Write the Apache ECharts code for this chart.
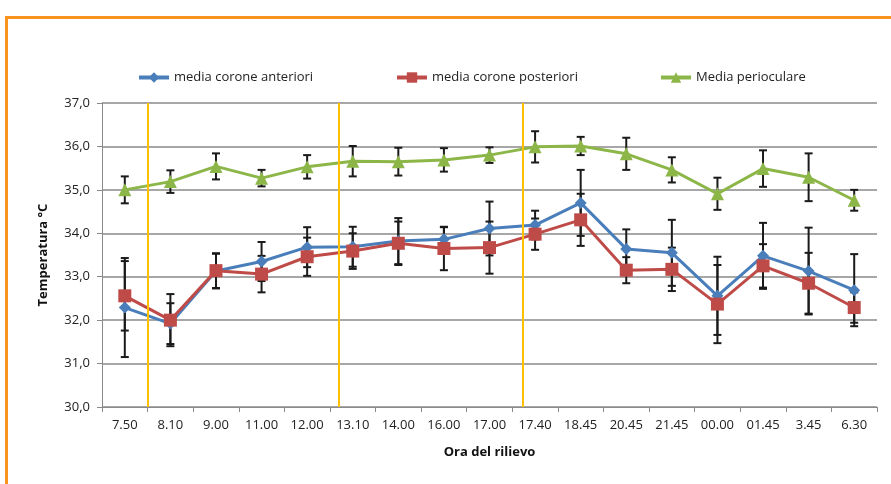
<!DOCTYPE html>
<html>
<head>
<meta charset="utf-8">
<script src="https://cdn.jsdelivr.net/npm/echarts@6/dist/echarts.min.js"></script>
<style>
  html, body { margin: 0; padding: 0; background: #fff; }
  #chart { width: 891px; height: 484px; }
</style>
</head>
<body>
<div id="chart"></div>
<script>
// Orari di rilievo
const categories = ['7.50', '8.10', '9.00', '11.00', '12.00', '13.10', '14.00', '16.00', '17.00',
  '17.40', '18.45', '20.45', '21.45', '00.00', '01.45', '3.45', '6.30'];

// Medie (°C)
const anteriori  = [32.29, 31.92, 33.13, 33.35, 33.68, 33.69, 33.82, 33.86, 34.11, 34.19, 34.70, 33.64, 33.55, 32.56, 33.48, 33.13, 32.69];
const posteriori = [32.56, 32.00, 33.14, 33.06, 33.46, 33.59, 33.77, 33.65, 33.67, 33.98, 34.31, 33.15, 33.17, 32.37, 33.25, 32.85, 32.29];
const perioculare = [35.00, 35.19, 35.54, 35.27, 35.53, 35.66, 35.65, 35.69, 35.80, 35.99, 36.01, 35.83, 35.46, 34.91, 35.49, 35.29, 34.76];

// Deviazioni standard (±)
const errAnteriori  = [1.14, 0.47, 0.40, 0.45, 0.46, 0.46, 0.53, 0.28, 0.62, 0.33, 0.76, 0.45, 0.76, 0.90, 0.76, 1.00, 0.83];
const errPosteriori = [0.80, 0.60, 0.40, 0.42, 0.44, 0.41, 0.50, 0.50, 0.60, 0.36, 0.60, 0.30, 0.50, 0.90, 0.50, 0.70, 0.35];
const errPerioculare = [0.31, 0.26, 0.30, 0.19, 0.27, 0.35, 0.32, 0.27, 0.18, 0.36, 0.21, 0.37, 0.29, 0.37, 0.42, 0.55, 0.24];

// Separatori verticali (posizione sull'asse delle categorie)
const separators = [1.0, 5.2, 9.23];

const yTicks = { min: 30, max: 37, step: 1 };

const names = ['media corone anteriori', 'media corone posteriori', 'Media perioculare'];
const colors = ['#4A7EBB', '#BE4B48', '#8CB648'];
const FONT = '"Open Sans", sans-serif';

function errData(means, errs) {
  return means.map((m, i) => [i, m - errs[i], m + errs[i]]);
}

function errSeries(means, errs) {
  return {
    type: 'custom',
    xAxisIndex: 0,
    yAxisIndex: 0,
    z: 1,
    silent: true,
    data: errData(means, errs),
    renderItem: function (params, api) {
      const x = api.value(0);
      const lo = api.coord([x, api.value(1)]);
      const hi = api.coord([x, api.value(2)]);
      const hw = 4;
      const style = { stroke: '#1a1a1a', lineWidth: 2 };
      return {
        type: 'group',
        children: [
          { type: 'line', shape: { x1: lo[0], y1: lo[1], x2: hi[0], y2: hi[1] }, style: style },
          { type: 'line', shape: { x1: lo[0] - hw, y1: lo[1], x2: lo[0] + hw, y2: lo[1] }, style: style },
          { type: 'line', shape: { x1: hi[0] - hw, y1: hi[1], x2: hi[0] + hw, y2: hi[1] }, style: style }
        ]
      };
    }
  };
}

function lineSeries(idx, data, symbol, size) {
  return {
    name: names[idx],
    type: 'line',
    data: data,
    xAxisIndex: 0,
    yAxisIndex: 0,
    symbol: symbol,
    symbolSize: size,
    z: 3,
    lineStyle: { color: colors[idx], width: 3 },
    itemStyle: { color: colors[idx] },
    emphasis: { disabled: true }
  };
}

function legendAt(left, name) {
  return {
    data: [name],
    left: left,
    top: 66,
    itemWidth: 30,
    itemHeight: 13,
    itemGap: 4,
    lineStyle: { width: 4 },
    textStyle: { fontFamily: FONT, fontSize: 13, color: '#222' },
    selectedMode: false
  };
}

const chart = echarts.init(document.getElementById('chart'), null, { renderer: 'canvas' });

chart.setOption({
  animation: false,
  backgroundColor: '#fff',
  graphic: [{
    type: 'polyline',
    shape: { points: [[6.5, 484], [6.5, 17.5], [891, 17.5]] },
    style: { stroke: '#F7931E', lineWidth: 3, fill: null },
    z: 100
  }],
  legend: [
    legendAt(132, names[0]),
    legendAt(390, names[1]),
    legendAt(654, names[2])
  ],
  grid: { left: 102, right: 14, top: 103, bottom: 77 },
  xAxis: [{
    type: 'category',
    data: categories,
    boundaryGap: true,
    name: 'Ora del rilievo',
    nameLocation: 'middle',
    nameGap: 39,
    nameTextStyle: { fontFamily: FONT, fontSize: 13, fontWeight: 'bold', color: '#111' },
    axisLine: { lineStyle: { color: '#8a8a8a', width: 1 } },
    axisTick: { show: true, length: 5, interval: 0, lineStyle: { color: '#8a8a8a' } },
    axisLabel: { interval: 0, margin: 12, fontFamily: FONT, fontSize: 13, color: '#222' },
    splitLine: { show: false }
  }, {
    type: 'value',
    min: 0,
    max: categories.length,
    show: false
  }],
  yAxis: {
    type: 'value',
    min: yTicks.min,
    max: yTicks.max,
    interval: yTicks.step,
    name: 'Temperatura °C',
    nameLocation: 'middle',
    nameGap: 52,
    nameRotate: 90,
    nameTextStyle: { fontFamily: FONT, fontSize: 13, fontWeight: 'bold', color: '#111' },
    axisLine: { show: true, lineStyle: { color: '#8a8a8a', width: 1 } },
    axisTick: { show: true, length: 5, lineStyle: { color: '#8a8a8a' } },
    axisLabel: {
      margin: 12,
      fontFamily: FONT, fontSize: 13, color: '#222',
      formatter: v => v.toFixed(1).replace('.', ',')
    },
    splitLine: { show: true, lineStyle: { color: '#8a8a8a', width: 1.5 } }
  },
  series: [
    {
      type: 'line',
      xAxisIndex: 1,
      yAxisIndex: 0,
      data: [],
      silent: true,
      z: 0,
      markLine: {
        silent: true,
        symbol: ['none', 'none'],
        label: { show: false },
        lineStyle: { color: '#FFC000', width: 2, type: 'solid' },
        data: separators.map(v => ({ xAxis: v }))
      }
    },
    errSeries(perioculare, errPerioculare),
    errSeries(anteriori, errAnteriori),
    errSeries(posteriori, errPosteriori),
    lineSeries(0, anteriori, 'diamond', 12),
    lineSeries(1, posteriori, 'rect', 13),
    lineSeries(2, perioculare, 'triangle', 13)
  ]
});
</script>
</body>
</html>
